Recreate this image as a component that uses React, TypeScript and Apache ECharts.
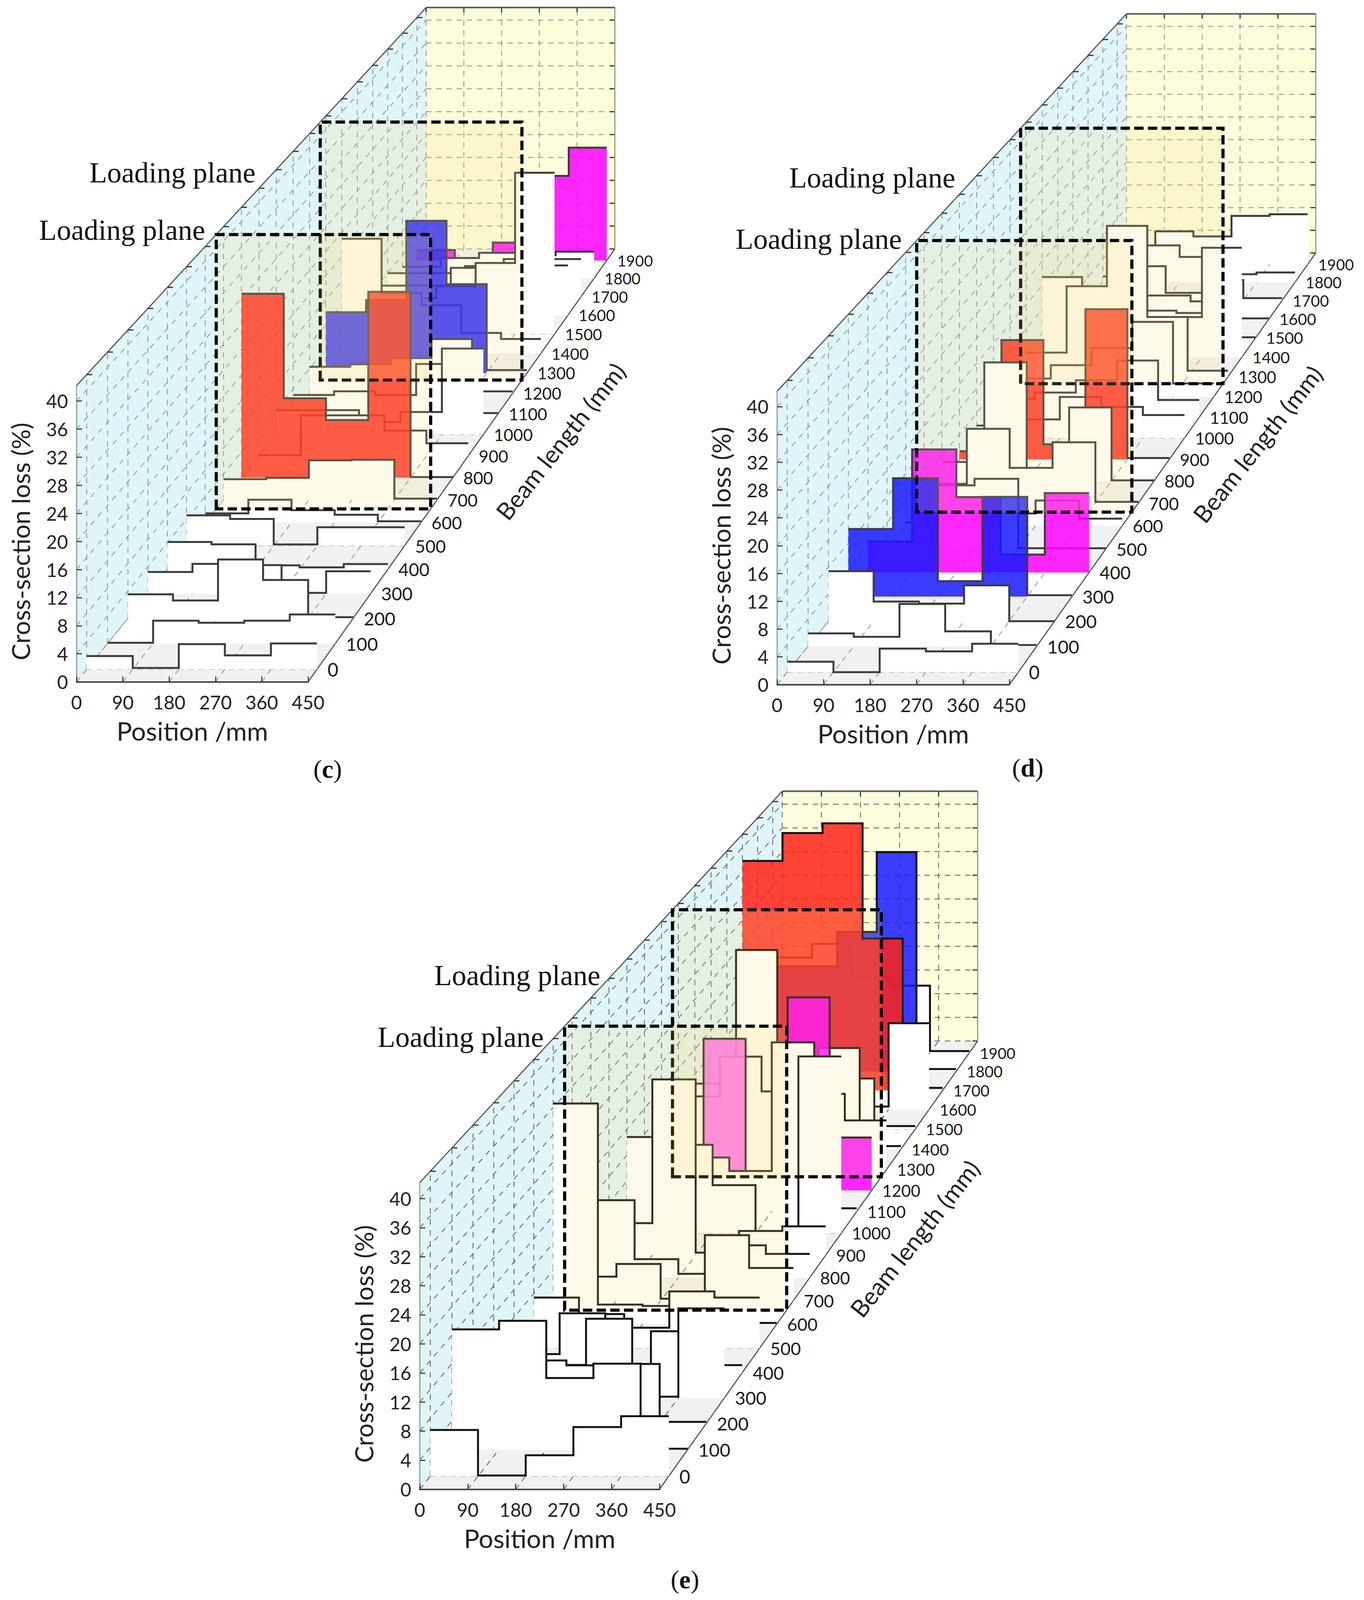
import React, { useEffect, useRef } from "react";
import * as echarts from "echarts";

const POSITIONS = [0, 90, 180, 270, 360, 450];
const BEAM_LENGTHS = [0, 100, 200, 300, 400, 500, 600, 700, 800, 900, 1000, 1100, 1200, 1300, 1400, 1500, 1600, 1700, 1800, 1900];
const WALL_LOSS_TICKS = [0, 4, 8, 12, 16, 20, 24, 28, 32, 36, 40];
const LOADING_PLANES = [1265, 660];

// one row per beam length, one value per 90 mm of position
const LOSS_C = [
  [1.9, 0.2, 3.6, 2, 3.7],
  [0.1, 3.3, 3, 3.3, 4.2],
  [3.5, 2.6, 8.6, 5.6, 0.15],
  [3.2, 4.4, 4.2, 0.1, 3.3],
  [4.1, 3.75, 0.6, 0.3, 0.8],
  [4.6, 4.05, 0.2, 2.8, 2.8],
  [1.4, 3.5, 1.9, 1.2, 0.2],
  [3.2, 3.4, 6.1, 6.2, 0.2],
  [28.7, 12.4, 9, 29, 0.1],
  [0.1, 6.4, 6.4, 4, 2],
  [3.9, 3.9, 2, 3.6, 13.7],
  [3, 3.6, 3, 8, 0.1],
  [4.3, 4.7, 5.7, 8.8, 0.3],
  [10, 12, 25, 14.6, 0.5],
  [19, 10, 8, 3.4, 2.4],
  [5, 6, 8, 11.9, 27],
  [5, 5, 8, 6, 8.4],
  [4, 4, 5.2, 6.4, 6.4],
  [2, 3.5, 4.4, 4, 4.6],
  [1.8, 0.2, 3.1, 14.7, 19.6],
];
const LOSS_D = [
  [1.5, 0, 3.4, 3, 4.1],
  [1.9, 1.4, 6.2, 2.2, 0.2],
  [7.4, 2.9, 2.6, 5.3, 0],
  [10.1, 17.7, 2.3, 14.9, 0.2],
  [4.7, 18.6, 11.4, 2.7, 12],
  [1.1, 9.7, 10.7, 0.1, 0.1],
  [0.5, 1, 1.9, 3.9, 1.1],
  [3, 11.6, 5.5, 9.5, 0.2],
  [3, 18.7, 1.9, 11.6, 0.1],
  [1.3, 19, 2.4, 23.9, 0.2],
  [2, 3, 6.6, 5, 3.7],
  [3, 4, 6, 9.2, 2.8],
  [3, 5.2, 8, 12.3, 2.2],
  [4, 15, 25, 9.9, 1],
  [13.4, 8, 6, 6.7, 18.3],
  [3, 5, 4.6, 4.2, 0.1],
  [3, 4, 4, 3, 0.1],
  [2, 5.9, 1.3, 3.5, 0.4],
  [1, 6.4, 4.4, 1.4, 1.7],
  [1, 5.8, 4.9, 8.5, 8.8],
];
const LOSS_E = [
  [6.4, 0.1, 2.9, 6.8, 8.3],
  [16.8, 18, 10, 12, 0.1],
  [8, 8.9, 8.2, 8.4, 0.2],
  [8, 4.7, 11.3, 0.15, 12.8],
  [2.7, 8.6, 0.5, 6, 1.1],
  [7.4, 5, 3, 8.3, 7.4],
  [32.6, 2.9, 2.7, 2, 0.2],
  [3.6, 5.5, 0.3, 9.8, 4.9],
  [11.7, 2.8, 0.6, 4.9, 3.6],
  [4.9, 26.8, 0.4, 3.7, 4.4],
  [14.8, 13.6, 7.4, 0.3, 27.2],
  [10, 8.4, 6.3, 26.3, 0.5],
  [5, 23.8, 3, 30.3, 8.3],
  [11.6, 17.9, 12.4, 12, 7.8],
  [10.5, 31.9, 10, 16.2, 0.5],
  [5, 8, 8, 8.2, 0.5],
  [5, 8, 8, 0.5, 14.1],
  [37.8, 42.4, 44, 25, 0.4],
  [17.5, 17.5, 23.2, 36.5, 0.4],
  [16, 18.3, 12.7, 11.3, 0.3],
];

const COLORED_C: Record<number, string> = { 800: "red", 1300: "blue", 1900: "magenta" };
const COLORED_D: Record<number, string> = { 300: "blue", 400: "magenta", 900: "red" };
const COLORED_E: Record<number, string> = { 1200: "magenta", 1700: "red", 1800: "blue" };

const FILLS: Record<string, string> = {
  red: "rgba(255,35,25,0.85)",
  blue: "rgba(25,25,255,0.85)",
  magenta: "rgba(255,0,255,0.85)",
};
const GREY_BANDS = [[-48, 0], [0, 100], [200, 300], [400, 600], [700, 800], [900, 1000], [1100, 1200], [1300, 1400], [1500, 1600], [1700, 1800], [1900, 1965]];

const FRONT = -48;
const BACK = 1965;
const WALL_TOP = 42.2;
const SANS = "Lato";
const SERIF = "'Liberation Serif'";

// the browser window only shows 4096px of height, so the page layout is squeezed to fit
const CHART_H = 4096;
const FY = CHART_H / 4592;

// how much smaller a slice gets with distance along the beam
const depthScale = (b: number) => 1 / (1.0054 + 0.0001128 * b);

const PANELS = [
  { letter: "c", loss: LOSS_C, colored: COLORED_C, line: "#3c3c3c", dash: "#87908e", left: 196, top: 1151, width: 593, height: 806, vanish: [5034, -4757], beamAt: [1283, 1482], labels: [[229, 495], [100, 660]] },
  { letter: "d", loss: LOSS_D, colored: COLORED_D, line: "#3c3c3c", dash: "#87908e", left: 1990, top: 1167, width: 595, height: 798, vanish: [6825, -4731], beamAt: [3068, 1490], labels: [[2021, 510], [1884, 686]] },
  { letter: "e", loss: LOSS_E, colored: COLORED_E, line: "#111111", dash: "#555a5a", left: 1075, top: 3440, width: 614, height: 834, vanish: [6092, -2677], beamAt: [2190, 3770], labels: [[1112, 2799], [967, 2976]] },
];
const CAPTIONS = [[839, 2207], [2632, 2204], [1754, 4533]];

type Panel = (typeof PANELS)[number];

const project = (api: any, panel: Panel, pos: number, b: number, loss: number) => {
  const p = api.coord([pos, loss]);
  const s = depthScale(b);
  const vx = panel.vanish[0];
  const vy = panel.vanish[1] * FY;
  return [vx + (p[0] - vx) * s, vy + (p[1] - vy) * s];
};

const seg = (a: number[], b: number[], stroke: string, lineWidth: number, lineDash?: number[]) => ({
  type: "line",
  shape: { x1: a[0], y1: a[1], x2: b[0], y2: b[1] },
  style: { stroke, lineWidth, lineDash },
});

const renderFrame = (panel: Panel) => (_: any, api: any) => {
  const at = (pos: number, b: number, loss: number) => project(api, panel, pos, b, loss);
  const children: any[] = [];
  const poly = (points: number[][], fill: string) => children.push({ type: "polygon", shape: { points }, style: { fill } });

  poly([at(0, FRONT, 0), at(0, FRONT, WALL_TOP), at(0, BACK, WALL_TOP), at(0, BACK, 0)], "#e0f5fa");
  poly([at(0, BACK, 0), at(0, BACK, WALL_TOP), at(450, BACK, WALL_TOP), at(450, BACK, 0)], "#fdfcdc");
  poly([at(0, FRONT, 0), at(0, BACK, 0), at(450, BACK, 0), at(450, FRONT, 0)], "#ffffff");
  GREY_BANDS.forEach(([b1, b2]) => poly([at(0, b1, 0), at(0, b2, 0), at(450, b2, 0), at(450, b1, 0)], "#f1f1f1"));

  const dash = panel.dash;
  WALL_LOSS_TICKS.forEach((loss) => {
    children.push(seg(at(0, FRONT, loss), at(0, BACK, loss), dash, 2, [14, 14]));
    children.push(seg(at(0, BACK, loss), at(450, BACK, loss), dash, 2, [14, 12]));
    children.push(seg(at(450, BACK, loss), at(438, BACK, loss), "#333", 3));
  });
  BEAM_LENGTHS.forEach((b) => {
    children.push(seg(at(0, b, 0), at(0, b, WALL_TOP), dash, 2, [14, 14]));
  });
  POSITIONS.forEach((pos) => {
    children.push(seg(at(pos, BACK, 0), at(pos, BACK, WALL_TOP), dash, 2, [14, 12]));
    children.push(seg(at(pos, FRONT, 0), at(pos, BACK, 0), dash, 2, [14, 12]));
    children.push(seg(at(pos, BACK, WALL_TOP), at(pos, BACK, WALL_TOP - 0.8), "#333", 3));
  });
  [0, 500, 1000, 1500].forEach((b) => children.push(seg(at(0, b, 0), at(450, b, 0), "#9a9a9a", 2, [14, 12])));

  const edge = "#55595a";
  children.push(seg(at(0, FRONT, 0), at(0, FRONT, WALL_TOP), "#9aa", 3));
  children.push(seg(at(0, FRONT, WALL_TOP), at(0, BACK, WALL_TOP), edge, 3));
  children.push(seg(at(0, BACK, WALL_TOP), at(450, BACK, WALL_TOP), edge, 4));
  children.push(seg(at(450, BACK, WALL_TOP), at(450, BACK, 0), "#9a9a80", 3));
  children.push(seg(at(450, FRONT, 0), at(450, BACK, 0), edge, 3));
  BEAM_LENGTHS.forEach((b) => {
    const p = at(0, b, WALL_TOP);
    children.push(seg(p, [p[0] + 14, p[1]], "#333", 3));
    const e = at(450, b, 0);
    children.push({
      type: "text",
      style: { text: String(b), x: e[0] + 27, y: e[1], fill: "#1a1a1a", fontFamily: SANS, fontSize: 48 * depthScale(b), align: "left", verticalAlign: "middle" },
    });
  });
  return { type: "group", children };
};

const renderSlice = (panel: Panel) => (params: any, api: any) => {
  const idx = BEAM_LENGTHS.length - 1 - params.dataIndex;
  const row = panel.loss[idx];
  const b = BEAM_LENGTHS[idx];
  const color = panel.colored[b];
  const top: number[][] = [];
  const body: number[][] = [];
  row.forEach((v, i) => {
    top.push(project(api, panel, POSITIONS[i], b, v));
    top.push(project(api, panel, POSITIONS[i + 1], b, v));
    // columns that barely rise stay uncoloured, only their line shows
    const h = color && v < 1 ? 0 : v;
    body.push(project(api, panel, POSITIONS[i], b, h));
    body.push(project(api, panel, POSITIONS[i + 1], b, h));
  });
  const outline = [project(api, panel, 0, b, 0), ...body, project(api, panel, 450, b, 0)];
  const children: any[] = [
    { type: "polygon", shape: { points: outline }, style: { fill: color ? FILLS[color] : "#ffffff" } },
  ];
  // the second column of the magenta slice in (e) is much paler in the source
  if (panel.letter === "e" && b === 1200) {
    children.push({
      type: "polygon",
      shape: { points: [project(api, panel, 90, b, 0), top[2], top[3], project(api, panel, 180, b, 0)] },
      style: { fill: "rgba(255,255,255,0.35)" },
    });
  }
  children.push({ type: "polyline", shape: { points: top }, style: { stroke: panel.line, lineWidth: 5, fill: "none" } });
  return { type: "group", children };
};

const renderPlane = (panel: Panel) => (params: any, api: any) => {
  const b = LOADING_PLANES[params.dataIndex];
  return {
    type: "polygon",
    shape: { points: [project(api, panel, 0, b, 0), project(api, panel, 0, b, WALL_TOP), project(api, panel, 450, b, WALL_TOP), project(api, panel, 450, b, 0)] },
    style: { fill: "rgba(250,220,120,0.16)", stroke: "#000000", lineWidth: 8, lineDash: [24, 11] },
  };
};

const buildOption = () => {
  const grid = PANELS.map((p) => ({ left: p.left, top: p.top * FY, width: p.width, height: p.height * FY }));
  const xAxis = PANELS.map((_, i) => ({
    type: "value",
    gridIndex: i,
    min: 0,
    max: 450,
    interval: 90,
    z: 10,
    name: "Position /mm",
    nameLocation: "middle",
    nameGap: 92,
    nameTextStyle: { fontFamily: SANS, fontSize: 66, color: "#222" },
    axisLine: { lineStyle: { color: "#444", width: 4 } },
    axisTick: { inside: true, length: 14, lineStyle: { color: "#444", width: 3 } },
    axisLabel: { fontFamily: SANS, fontSize: 48, color: "#222", margin: 28, showMinLabel: true, showMaxLabel: true },
    splitLine: { show: false },
  }));
  const yAxis = PANELS.map((_, i) => ({
    type: "value",
    gridIndex: i,
    min: 0,
    max: 40,
    interval: 4,
    z: 10,
    name: "Cross-section loss (%)",
    nameLocation: "middle",
    nameGap: 112,
    nameTextStyle: { fontFamily: SANS, fontSize: 64, color: "#222" },
    axisLine: { lineStyle: { color: "#9aa", width: 3 } },
    axisTick: { inside: true, length: 14, lineStyle: { color: "#444", width: 3 } },
    axisLabel: { fontFamily: SANS, fontSize: 48, color: "#222", margin: 22 },
    splitLine: { show: false },
  }));
  const series: any[] = [];
  PANELS.forEach((p, i) => {
    const axes = { type: "custom", coordinateSystem: "cartesian2d", xAxisIndex: i, yAxisIndex: i, clip: false, silent: true };
    series.push({ ...axes, z: 2, data: [[0, 0]], renderItem: renderFrame(p) });
    series.push({ ...axes, z: 3, data: [...BEAM_LENGTHS].reverse().map((b) => [0, b]), renderItem: renderSlice(p) });
    series.push({ ...axes, z: 4, data: LOADING_PLANES.map((b) => [0, b]), renderItem: renderPlane(p) });
  });
  const graphic: any[] = [];
  PANELS.forEach((p, i) => {
    p.labels.forEach(([x, y]) => {
      graphic.push({ type: "text", x, y: y * FY, style: { text: "Loading plane", fontFamily: SERIF, fontSize: 74, fill: "#111", verticalAlign: "middle" } });
    });
    graphic.push({
      type: "text",
      x: p.beamAt[0],
      y: p.beamAt[1] * FY,
      rotation: (51.6 * Math.PI) / 180,
      style: { text: "Beam length (mm)", fontFamily: SANS, fontSize: 62, fill: "#222", verticalAlign: "middle" },
    });
    graphic.push({
      type: "text",
      x: CAPTIONS[i][0],
      y: CAPTIONS[i][1] * FY,
      style: {
        text: `({b|${p.letter}})`,
        fontFamily: SERIF,
        fontSize: 66,
        fill: "#111",
        align: "center",
        verticalAlign: "middle",
        rich: { b: { fontFamily: SERIF, fontSize: 66, fontWeight: "bold", fill: "#111" } },
      },
    });
  });
  return { animation: false, backgroundColor: "#ffffff", grid, xAxis, yAxis, series, graphic };
};

export default function App() {
  const ref = useRef<HTMLDivElement>(null);
  useEffect(() => {
    document.body.style.margin = "0";
    const chart = echarts.init(ref.current, undefined, { renderer: "svg" });
    chart.setOption(buildOption() as any);
    return () => {
      chart.dispose();
    };
  }, []);
  return <div ref={ref} style={{ width: 3493, height: CHART_H }} />;
}
